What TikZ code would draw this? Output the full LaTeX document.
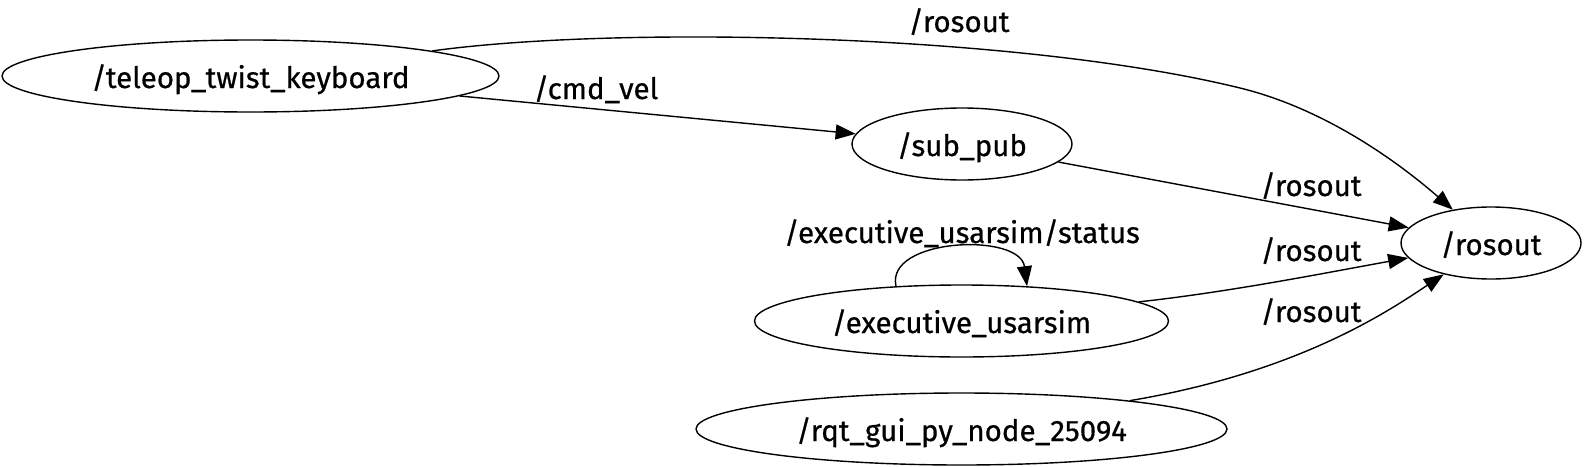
\documentclass[tikz,border=0pt]{standalone}
\usepackage{fontspec}
\setmainfont{Fira Sans}
\newfontfamily\rosfont{Fira Sans}[FakeBold=0.6]
\usetikzlibrary{shapes.geometric,arrows.meta}

\tikzset{
  rosnode/.style={draw, ellipse, line width=1.4pt, inner sep=0pt,
    minimum height=72pt, text height=24pt, text depth=0pt, font=\rosfont\fontsize{29.5}{29.5}\selectfont},
  topic/.style={anchor=base, inner sep=0pt, font=\rosfont\fontsize{29.5}{29.5}\selectfont},
  pubedge/.style={line width=1.4pt, -{Triangle[length=20pt,width=15pt]}}
}

\begin{document}
\begin{tikzpicture}[x=1pt,y=-1pt]
                              \useasboundingbox (0,0) rectangle (1584,466);

                              % Draw ros nodes
                              \node[rosnode, minimum width=497pt] (teleop) at (250.5,76) {/teleop\_twist\_keyboard};
                              \node[rosnode, minimum width=220pt] (subpub) at (962,144) {/sub\_pub};
                              \node[rosnode, minimum width=180pt] (rosout) at (1491,243) {/rosout};
                              \node[rosnode, minimum width=414pt] (executive) at (961.5,321) {/executive\_usarsim};
                              \node[rosnode, minimum width=531pt] (rqtgui) at (961.5,429) {/rqt\_gui\_py\_node\_25094};

                              % topic connections
                              \draw[pubedge] (teleop) .. controls (620,25) and (1020,34) .. (1240,88)
                                .. controls (1330,110) and (1405,168) .. (rosout);
                              \draw[pubedge] (teleop) -- (subpub);
                              \draw[pubedge] (subpub) -- (rosout);
                              \draw[pubedge] (executive.152) .. controls (885,238) and (1020,232) .. (executive.28);
                              \draw[pubedge] (executive) .. controls (1230,292) and (1330,272) .. (rosout);
                              \draw[pubedge] (rqtgui) .. controls (1300,372) and (1390,310) .. (rosout);

                              % topic labels
                              \node[topic] (toprosout) at (959,32) {/rosout};
                              \node[topic] (cmdvel) at (596,99) {/cmd\_vel};
                              \node[topic] (subrosout) at (1311,196) {/rosout};
                              \node[topic] (status) at (962,243) {/executive\_usarsim/status};
                              \node[topic] (exerosout) at (1311,261) {/rosout};
                              \node[topic] (rqtrosout) at (1311,322) {/rosout};
                            \end{tikzpicture}
\end{document}
